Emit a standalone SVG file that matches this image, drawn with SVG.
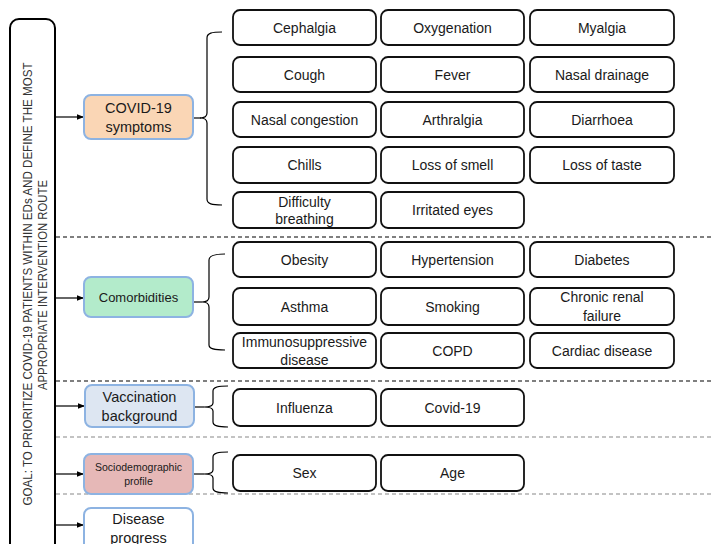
<svg xmlns="http://www.w3.org/2000/svg" width="713" height="544" viewBox="0 0 713 544">
  <defs>
    <marker id="arrow" viewBox="0 0 10 10" refX="10" refY="5" markerWidth="7" markerHeight="7" orient="auto" markerUnits="userSpaceOnUse">
      <path d="M0,1 L10,5 L0,9 Z" fill="#000"/>
    </marker>
    <style>
      text { font-family: "Liberation Sans", Arial, sans-serif; fill: #1a1a1a; }
      .item rect { fill: #fff; stroke: #111; stroke-width: 1.8; }
      .item text { font-size: 14px; text-anchor: middle; }
      .cat rect { stroke: #8db3e2; stroke-width: 2; }
      .cat text { font-size: 14.5px; text-anchor: middle; }
      .goal text { font-size: 13px; text-anchor: middle; fill: #333; }
      .conn line, .conn path { stroke: #000; stroke-width: 1.2; fill: none; }
      .brace { stroke: #333; stroke-width: 1.2; fill: none; }
      .sep-dark { stroke: #000; stroke-width: 1.2; stroke-dasharray: 4 3; }
      .sep-gray { stroke: #888; stroke-width: 1.2; stroke-dasharray: 4 3; }
    </style>
  </defs>
  <rect width="713" height="544" fill="#fff"/>

  <!-- section separators -->
  <g id="separators">
    <line class="sep-dark" x1="56" y1="237" x2="713" y2="237"/>
    <line class="sep-dark" x1="56" y1="381" x2="713" y2="381"/>
    <line class="sep-gray" x1="56" y1="437" x2="713" y2="437"/>
    <line class="sep-gray" x1="56" y1="494" x2="713" y2="494"/>
  </g>

  <!-- goal -->
  <g id="goal" class="goal">
    <rect x="10" y="19" width="45" height="545" rx="9" fill="#fff" stroke="#000" stroke-width="2"/>
    <text transform="translate(32,284) rotate(-90)" textLength="443" lengthAdjust="spacingAndGlyphs">GOAL: TO PRIORITIZE COVID-19 PATIENTS WITHIN EDs AND DEFINE THE MOST</text>
    <text transform="translate(47,285) rotate(-90)" textLength="210" lengthAdjust="spacingAndGlyphs">APPROPRIATE INTERVENTION ROUTE</text>
  </g>

  <!-- connectors -->
  <g id="connectors" class="conn">
    <line x1="55" y1="117" x2="84" y2="117" marker-end="url(#arrow)"/>
    <line x1="55" y1="298" x2="84" y2="298" marker-end="url(#arrow)"/>
    <line x1="55" y1="406" x2="85" y2="406" marker-end="url(#arrow)"/>
    <line x1="55" y1="474" x2="84" y2="474" marker-end="url(#arrow)"/>
    <line x1="55" y1="525" x2="84" y2="525" marker-end="url(#arrow)"/>
    <line x1="193" y1="118" x2="201" y2="118"/>
    <line x1="193" y1="302" x2="202" y2="302"/>
    <line x1="194" y1="407" x2="204" y2="407"/>
    <line x1="193" y1="474" x2="204" y2="474"/>
    <path class="brace" d="M222,32 C212,32 207,33 207,38 L207,113 C207,117 204,118 200,118 C204,118 207,119 207,123 L207,199 C207,204 212,205 222,205"/>
    <path class="brace" d="M225,254 C214,254 209,256 209,260 L209,297 C209,301 206,302 202,302 C206,302 209,303 209,307 L209,345 C209,349 214,350 225,350"/>
    <path class="brace" d="M228,386 C218,386 213,387 213,391 L213,403 C213,406 210,407 204,407 C210,407 213,408 213,411 L213,422 C213,426 218,427 228,427"/>
    <path class="brace" d="M228,452 C218,452 213,453 213,457 L213,470 C213,473 210,474 204,474 C210,474 213,475 213,478 L213,488 C213,492 218,493 228,493"/>
  </g>

  <!-- categories -->
  <g id="cat-symptoms" class="cat">
    <rect x="84" y="95" width="109" height="44" rx="7" fill="#fad6b5"/>
    <text x="138.5" y="113">COVID-19</text>
    <text x="138.5" y="132">symptoms</text>
  </g>
  <g id="cat-comorbidities" class="cat">
    <rect x="84" y="277" width="109" height="40" rx="7" fill="#b3ebcb"/>
    <text x="138.5" y="302" style="font-size:13px">Comorbidities</text>
  </g>
  <g id="cat-vaccination" class="cat">
    <rect x="85" y="385" width="109" height="42" rx="7" fill="#dde6f2"/>
    <text x="139.5" y="402">Vaccination</text>
    <text x="139.5" y="421">background</text>
  </g>
  <g id="cat-sociodemographic" class="cat">
    <rect x="84" y="454" width="109" height="40" rx="7" fill="#e6b8b7"/>
    <text x="138.5" y="471" style="font-size:10.5px">Sociodemographic</text>
    <text x="138.5" y="485" style="font-size:10.5px">profile</text>
  </g>
  <g id="cat-disease-progress" class="cat">
    <rect x="84" y="508" width="109" height="50" rx="7" fill="#fff"/>
    <text x="138.5" y="524">Disease</text>
    <text x="138.5" y="543">progress</text>
  </g>

  <!-- symptom items -->
  <g id="item-cephalgia" class="item"><rect x="233" y="10" width="143" height="35" rx="7"/><text x="304.5" y="32.5">Cephalgia</text></g>
  <g id="item-oxygenation" class="item"><rect x="381" y="10" width="143" height="35" rx="7"/><text x="452.5" y="32.5">Oxygenation</text></g>
  <g id="item-myalgia" class="item"><rect x="530" y="10" width="144" height="35" rx="7"/><text x="602" y="32.5">Myalgia</text></g>

  <g id="item-cough" class="item"><rect x="233" y="57" width="143" height="35" rx="7"/><text x="304.5" y="79.5">Cough</text></g>
  <g id="item-fever" class="item"><rect x="381" y="57" width="143" height="35" rx="7"/><text x="452.5" y="79.5">Fever</text></g>
  <g id="item-nasal-drainage" class="item"><rect x="530" y="57" width="144" height="35" rx="7"/><text x="602" y="79.5">Nasal drainage</text></g>

  <g id="item-nasal-congestion" class="item"><rect x="233" y="102" width="143" height="35" rx="7"/><text x="304.5" y="124.5">Nasal congestion</text></g>
  <g id="item-arthralgia" class="item"><rect x="381" y="102" width="143" height="35" rx="7"/><text x="452.5" y="124.5">Arthralgia</text></g>
  <g id="item-diarrhoea" class="item"><rect x="530" y="102" width="144" height="35" rx="7"/><text x="602" y="124.5">Diarrhoea</text></g>

  <g id="item-chills" class="item"><rect x="233" y="147" width="143" height="36" rx="7"/><text x="304.5" y="170">Chills</text></g>
  <g id="item-loss-smell" class="item"><rect x="381" y="147" width="143" height="36" rx="7"/><text x="452.5" y="170">Loss of smell</text></g>
  <g id="item-loss-taste" class="item"><rect x="530" y="147" width="144" height="36" rx="7"/><text x="602" y="170">Loss of taste</text></g>

  <g id="item-difficulty-breathing" class="item"><rect x="233" y="192" width="143" height="36" rx="7"/><text x="304.5" y="207">Difficulty</text><text x="304.5" y="224">breathing</text></g>
  <g id="item-irritated-eyes" class="item"><rect x="381" y="192" width="143" height="36" rx="7"/><text x="452.5" y="215">Irritated eyes</text></g>

  <!-- comorbidity items -->
  <g id="item-obesity" class="item"><rect x="233" y="242" width="143" height="35" rx="7"/><text x="304.5" y="264.5">Obesity</text></g>
  <g id="item-hypertension" class="item"><rect x="381" y="242" width="143" height="35" rx="7"/><text x="452.5" y="264.5">Hypertension</text></g>
  <g id="item-diabetes" class="item"><rect x="530" y="242" width="144" height="35" rx="7"/><text x="602" y="264.5">Diabetes</text></g>

  <g id="item-asthma" class="item"><rect x="233" y="288" width="143" height="37" rx="7"/><text x="304.5" y="311.5">Asthma</text></g>
  <g id="item-smoking" class="item"><rect x="381" y="288" width="143" height="37" rx="7"/><text x="452.5" y="311.5">Smoking</text></g>
  <g id="item-chronic-renal" class="item"><rect x="530" y="288" width="144" height="37" rx="7"/><text x="602" y="302">Chronic renal</text><text x="602" y="321">failure</text></g>

  <g id="item-immunosuppressive" class="item"><rect x="233" y="333" width="143" height="35" rx="7"/><text x="304.5" y="347">Immunosuppressive</text><text x="304.5" y="365">disease</text></g>
  <g id="item-copd" class="item"><rect x="381" y="333" width="143" height="35" rx="7"/><text x="452.5" y="355.5">COPD</text></g>
  <g id="item-cardiac" class="item"><rect x="530" y="333" width="144" height="35" rx="7"/><text x="602" y="355.5">Cardiac disease</text></g>

  <!-- vaccination items -->
  <g id="item-influenza" class="item"><rect x="233" y="389" width="143" height="37" rx="7"/><text x="304.5" y="412.5">Influenza</text></g>
  <g id="item-covid19" class="item"><rect x="381" y="389" width="143" height="37" rx="7"/><text x="452.5" y="412.5">Covid-19</text></g>

  <!-- sociodemographic items -->
  <g id="item-sex" class="item"><rect x="233" y="455" width="143" height="36" rx="7"/><text x="304.5" y="478">Sex</text></g>
  <g id="item-age" class="item"><rect x="381" y="455" width="143" height="36" rx="7"/><text x="452.5" y="478">Age</text></g>
</svg>
